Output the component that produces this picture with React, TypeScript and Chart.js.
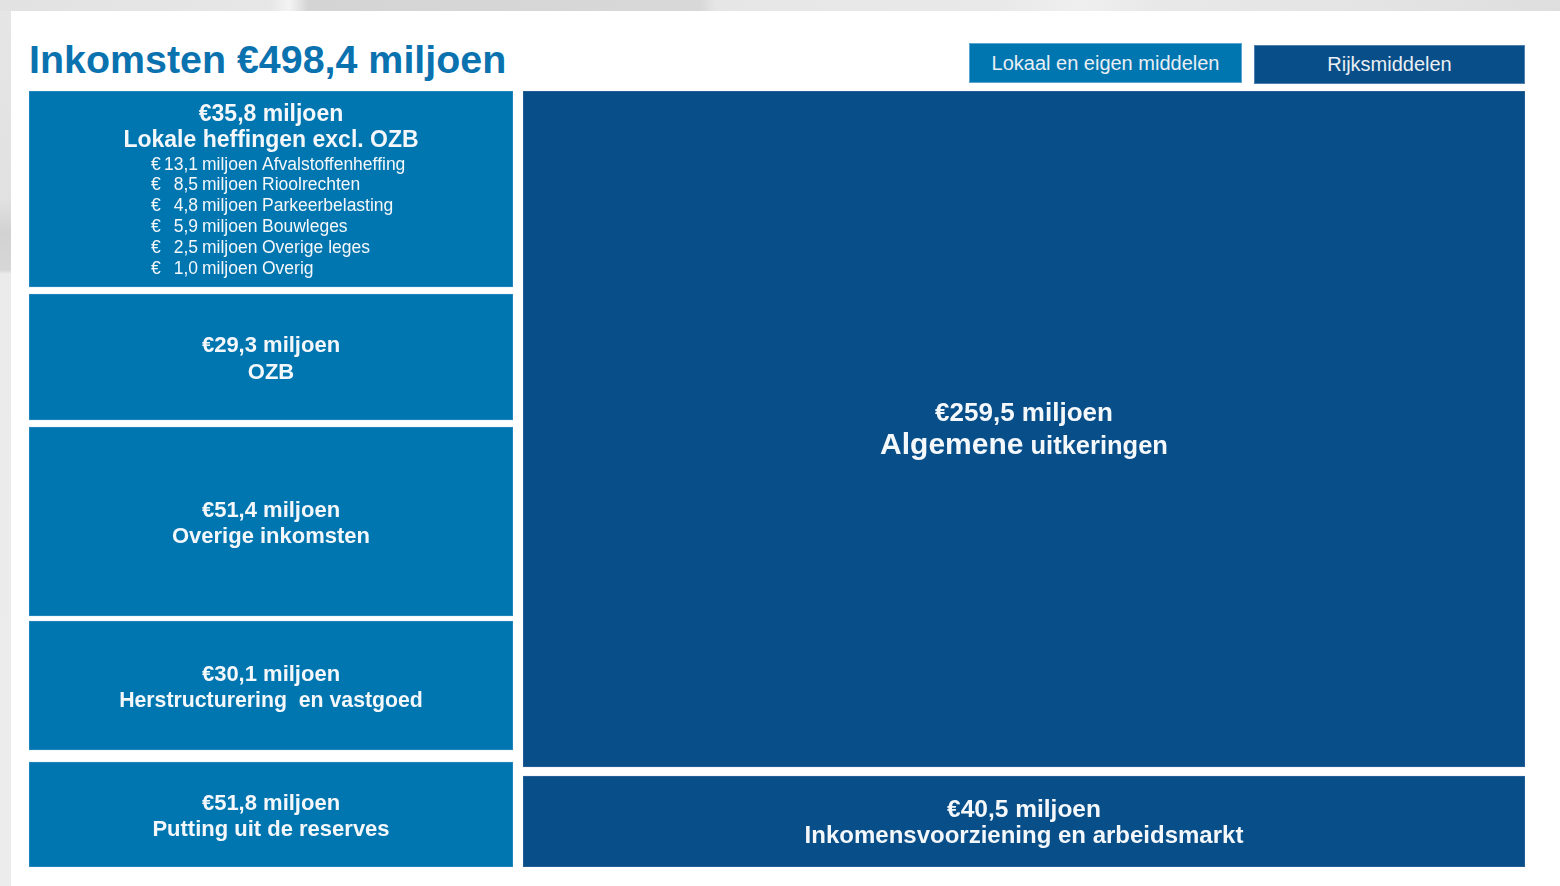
import React, { useEffect, useRef } from "react";
import { Chart, registerables } from "chart.js";

Chart.register(...registerables);

// ---------------- DATA ----------------
const titleText = "Inkomsten";
const totalValue = 498.4;
const categories = ["Lokaal en eigen middelen", "Rijksmiddelen"];

const localItems = [
  "Lokale heffingen excl. OZB",
  "OZB",
  "Overige inkomsten",
  "Herstructurering  en vastgoed",
  "Putting uit de reserves",
];
const localValues = [35.8, 29.3, 51.4, 30.1, 51.8];

const rijksItems = ["Algemene uitkeringen", "Inkomensvoorziening en arbeidsmarkt"];
const rijksValues = [259.5, 40.5];

const heffingItems = [
  "Afvalstoffenheffing",
  "Rioolrechten",
  "Parkeerbelasting",
  "Bouwleges",
  "Overige leges",
  "Overig",
];
const heffingValues = [13.1, 8.5, 4.8, 5.9, 2.5, 1.0];

// ---------------- LAYOUT (diagram block sizes, not data) ----------------
const localBlockHeights = [196, 126, 189, 129, 105];
const localGaps = [7, 7, 5, 12];
const rijksBlockHeights = [676, 91];
const rijksGaps = [9];

// ---------------- STYLE ----------------
const FONT = '"Liberation Sans", Arial, Helvetica, sans-serif';
const LIGHT = "#0076B0";
const LIGHT_BORDER = "#2c8ac0";
const DARK = "#084E88";
const DARK_BORDER = "#2f659b";
const TEXT = "#f5f8fb";
const TITLE_BLUE = "#0b72b0";

const num = (v: number) => v.toFixed(1).replace(".", ",");
const fmtAmount = (v: number) => `€${num(v)} miljoen`;

function ranges(heights: number[], gaps: number[]): [number, number][] {
  const out: [number, number][] = [];
  let pos = 0;
  heights.forEach((h, i) => {
    out.push([pos, pos + h]);
    pos += h + (gaps[i] ?? 0);
  });
  return out;
}

type DrawFn = (ctx: CanvasRenderingContext2D, i: number, cx: number, cy: number) => void;

function blockTextPlugin(draw: DrawFn) {
  return {
    id: "blockText",
    afterDatasetsDraw(chart: any) {
      const ctx: CanvasRenderingContext2D = chart.ctx;
      chart.data.datasets.forEach((_: any, i: number) => {
        const el: any = chart.getDatasetMeta(i).data[0];
        if (!el) return;
        const { x, y, base } = el.getProps(["x", "y", "base"], true);
        const cy = (Math.min(y, base) + Math.max(y, base)) / 2;
        ctx.save();
        ctx.fillStyle = TEXT;
        ctx.textBaseline = "alphabetic";
        draw(ctx, i, x, cy);
        ctx.restore();
      });
    },
  };
}

const drawLocal: DrawFn = (ctx, i, cx, cy) => {
  if (i === 0) {
    ctx.textAlign = "center";
    ctx.font = `bold 23px ${FONT}`;
    ctx.fillText(fmtAmount(localValues[0]), cx, cy - 68);
    ctx.fillText(localItems[0], cx, cy - 42.5);
    ctx.font = `17.5px ${FONT}`;
    heffingItems.forEach((name, k) => {
      const by = cy - 19.5 + k * 20.8;
      ctx.textAlign = "left";
      ctx.fillText("€", cx - 120, by);
      ctx.textAlign = "right";
      ctx.fillText(num(heffingValues[k]), cx - 73, by);
      ctx.textAlign = "left";
      ctx.fillText("miljoen", cx - 69, by);
      ctx.fillText(name, cx - 9, by);
    });
  } else {
    ctx.textAlign = "center";
    ctx.font = `bold 22px ${FONT}`;
    ctx.fillText(fmtAmount(localValues[i]), cx, cy - 5);
    const label = localItems[i];
    const maxW = 304;
    const w = ctx.measureText(label).width;
    if (w > maxW) ctx.font = `bold ${(22 * maxW) / w}px ${FONT}`;
    ctx.fillText(label, cx, cy + 21.5);
  }
};

const drawRijks: DrawFn = (ctx, i, cx, cy) => {
  if (i === 0) {
    ctx.textAlign = "center";
    ctx.font = `bold 26px ${FONT}`;
    ctx.fillText(fmtAmount(rijksValues[0]), cx, cy - 8);
    const words = rijksItems[0].split(" ");
    const first = words[0];
    const rest = " " + words.slice(1).join(" ");
    ctx.font = `bold 30px ${FONT}`;
    const w1 = ctx.measureText(first).width;
    ctx.font = `bold 25.5px ${FONT}`;
    const w2 = ctx.measureText(rest).width;
    const start = cx - (w1 + w2) / 2;
    ctx.textAlign = "left";
    ctx.font = `bold 30px ${FONT}`;
    ctx.fillText(first, start, cy + 25);
    ctx.font = `bold 25.5px ${FONT}`;
    ctx.fillText(rest, start + w1, cy + 25);
  } else {
    ctx.textAlign = "center";
    ctx.font = `bold 24.5px ${FONT}`;
    ctx.fillText(fmtAmount(rijksValues[i]), cx, cy - 5);
    ctx.font = `bold 24px ${FONT}`;
    ctx.fillText(rijksItems[i], cx, cy + 21.7);
  }
};

function makeColumn(
  canvas: HTMLCanvasElement,
  category: string,
  items: string[],
  values: number[],
  heights: number[],
  gaps: number[],
  color: string,
  border: string,
  draw: DrawFn
) {
  const r = ranges(heights, gaps);
  const total = r[r.length - 1][1];
  return new Chart(canvas, {
    type: "bar",
    data: {
      labels: [category],
      datasets: items.map((name, i) => ({
        label: name,
        data: [r[i]] as any,
        backgroundColor: color,
        borderColor: border,
        borderWidth: 1,
        borderSkipped: false,
        grouped: false,
        barPercentage: 1,
        categoryPercentage: 1,
      })),
    },
    options: {
      responsive: false,
      animation: false,
      layout: { padding: 0 },
      scales: {
        x: { type: "category", display: false, offset: true },
        y: { type: "linear", display: false, min: 0, max: total, reverse: true },
      },
      plugins: {
        legend: { display: false },
        title: { display: false },
        tooltip: {
          callbacks: {
            label: (c: any) => `${items[c.datasetIndex]}: ${fmtAmount(values[c.datasetIndex])}`,
          },
        },
      },
    } as any,
    plugins: [blockTextPlugin(draw)],
  });
}

export default function App() {
  const leftRef = useRef<HTMLCanvasElement>(null);
  const rightRef = useRef<HTMLCanvasElement>(null);

  useEffect(() => {
    const a = makeColumn(
      leftRef.current!, categories[0], localItems, localValues,
      localBlockHeights, localGaps, LIGHT, LIGHT_BORDER, drawLocal
    );
    const b = makeColumn(
      rightRef.current!, categories[1], rijksItems, rijksValues,
      rijksBlockHeights, rijksGaps, DARK, DARK_BORDER, drawRijks
    );
    return () => {
      a.destroy();
      b.destroy();
    };
  }, []);

  const legendBox = (
    text: string,
    left: number,
    top: number,
    width: number,
    height: number,
    bg: string,
    border: string
  ) => (
    <div
      style={{
        position: "absolute",
        left,
        top,
        width,
        height,
        boxSizing: "border-box",
        background: bg,
        border: `1px solid ${border}`,
        color: "#e9eff5",
        font: `20px ${FONT}`,
        display: "flex",
        alignItems: "center",
        justifyContent: "center",
      }}
    >
      {text}
    </div>
  );

  return (
    <div
      style={{
        position: "fixed",
        left: 0,
        top: 0,
        width: 1560,
        height: 886,
        overflow: "hidden",
        background:
          "linear-gradient(180deg, #e6e6e6 0px, #e1e1e1 200px, #d2d2d2 232px, #d7d7d7 270px, #ebebeb 274px, #ececec 886px)",
      }}
    >
      <div
        style={{
          position: "absolute",
          left: 0,
          top: 0,
          width: 1560,
          height: 11,
          background:
            "linear-gradient(90deg, #e2e2e2 0px, #e7e7e7 270px, #f3f3f3 290px, #d4d4d4 308px, #d6d6d6 450px, #d8d8d8 700px, #e6e6e6 716px, #e9e9e9 1000px, #efefef 1080px, #e8e8e8 1160px, #e3e3e3 1400px, #dedede 1560px)",
        }}
      />
      <div
        style={{
          position: "absolute",
          left: 11,
          top: 11,
          width: 1549,
          height: 875,
          background: "#ffffff",
        }}
      />
      <div
        style={{
          position: "absolute",
          left: 29,
          top: 40,
          font: `bold 39.4px ${FONT}`,
          lineHeight: "39px",
          color: TITLE_BLUE,
          whiteSpace: "nowrap",
        }}
      >
        {`${titleText} ${fmtAmount(totalValue)}`}
      </div>
      {legendBox(categories[0], 969, 43, 273, 40, LIGHT, "#5aa6d2")}
      {legendBox(categories[1], 1254, 45, 271, 39, DARK, "#4f7fae")}
      <canvas
        ref={leftRef}
        width={484}
        height={776}
        style={{ position: "absolute", left: 29, top: 91, width: 484, height: 776 }}
      />
      <canvas
        ref={rightRef}
        width={1002}
        height={776}
        style={{ position: "absolute", left: 523, top: 91, width: 1002, height: 776 }}
      />
    </div>
  );
}
